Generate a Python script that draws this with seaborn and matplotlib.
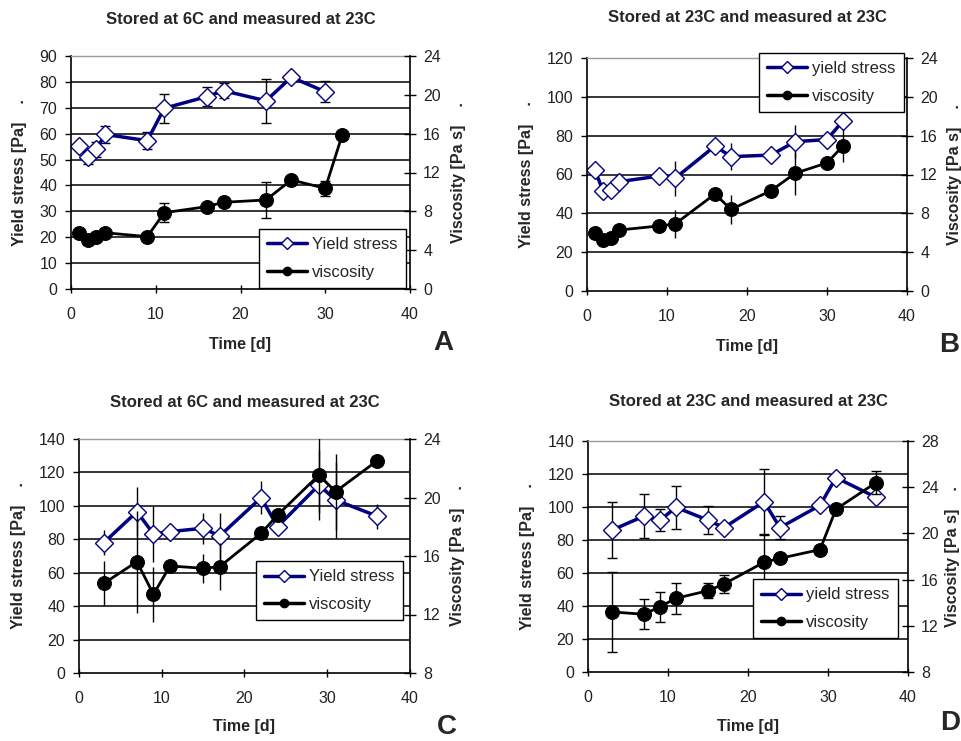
import matplotlib
matplotlib.use("Agg")
import matplotlib.pyplot as plt
import seaborn as sns
from matplotlib.lines import Line2D

# ---------------- data ----------------
# Panel A: stored at 6C, measured at 23C
a_time_yield = [1, 2, 3, 4, 9, 11, 16, 18, 23, 26, 30]
a_yield = [55.2, 50.9, 53.9, 59.7, 57.3, 69.8, 74.3, 76.6, 72.7, 81.8, 76.2]
a_yield_err = [1.0, 2.7, 3.0, 3.2, 3.4, 5.5, 3.7, 2.9, 8.5, 1.0, 4.0]
a_time_visc = [1, 2, 3, 4, 9, 11, 16, 18, 23, 26, 30, 32]
a_visc = [5.73, 5.05, 5.39, 5.8, 5.39, 7.86, 8.48, 8.93, 9.17, 11.23, 10.37, 15.86]
a_visc_err = [0.3, 0.3, 0.3, 0.3, 0.3, 1.0, 0.3, 0.3, 1.9, 0.3, 0.75, 0.3]

# Panel B: stored at 23C, measured at 23C
b_time = [1, 2, 3, 4, 9, 11, 16, 18, 23, 26, 30, 32]
b_yield = [62.3, 51.5, 52.0, 56.3, 59.2, 58.0, 74.7, 69.2, 70.0, 76.9, 78.0, 87.6]
b_yield_err = [1.0, 1.0, 1.0, 1.0, 1.0, 9.0, 1.0, 7.0, 1.0, 8.5, 1.0, 4.0]
b_visc = [6.0, 5.25, 5.42, 6.28, 6.7, 6.9, 9.99, 8.41, 10.33, 12.12, 13.2, 14.94]
b_visc_err = [0.3, 0.3, 0.3, 0.3, 0.3, 1.45, 0.3, 1.5, 0.3, 2.2, 0.3, 1.7]

# Panel C: stored at 6C, measured at 23C
c_time = [3, 7, 9, 11, 15, 17, 22, 24, 29, 31, 36]
c_yield = [78.0, 96.5, 83.2, 84.6, 86.6, 82.0, 104.9, 87.6, 112.5, 103.5, 93.9]
c_yield_err = [7.6, 14.5, 17.0, 1.0, 9.4, 14.0, 10.0, 1.0, 21.0, 23.0, 7.5]
c_visc = [14.13, 15.61, 13.38, 15.32, 15.16, 15.27, 17.55, 18.8, 21.54, 20.4, 22.5]
c_visc_err = [1.55, 3.5, 1.87, 0.3, 1.0, 1.6, 0.3, 0.3, 2.6, 2.6, 0.3]

# Panel D: stored at 23C, measured at 23C
d_time = [3, 7, 9, 11, 15, 17, 22, 24, 29, 31, 36]
d_yield = [86.0, 94.5, 92.0, 99.8, 92.0, 87.5, 103.2, 87.5, 101.0, 117.8, 105.9]
d_yield_err = [17.0, 13.5, 6.5, 13.0, 8.5, 1.0, 19.6, 7.0, 1.0, 1.0, 1.0]
d_visc = [13.2, 13.0, 13.66, 14.38, 15.04, 15.62, 17.5, 17.84, 18.6, 22.1, 24.4]
d_visc_err = [3.5, 1.3, 1.3, 1.35, 0.65, 0.75, 2.4, 0.3, 0.3, 0.3, 1.0]

titles = ["Stored at 6C and measured at 23C", "Stored at 23C and measured at 23C",
          "Stored at 6C and measured at 23C", "Stored at 23C and measured at 23C"]
legend_labels = [["Yield stress", "viscosity"], ["yield stress", "viscosity"],
                 ["Yield stress", "viscosity"], ["yield stress", "viscosity"]]
panel_letters = ["A", "B", "C", "D"]
x_ticks = [0, 10, 20, 30, 40]
a_left_ticks = [0, 10, 20, 30, 40, 50, 60, 70, 80, 90]
b_left_ticks = [0, 20, 40, 60, 80, 100, 120]
c_left_ticks = [0, 20, 40, 60, 80, 100, 120, 140]
d_left_ticks = [0, 20, 40, 60, 80, 100, 120, 140]
a_right_ticks = [0, 4, 8, 12, 16, 20, 24]
b_right_ticks = [0, 4, 8, 12, 16, 20, 24]
c_right_ticks = [8, 12, 16, 20, 24]
d_right_ticks = [8, 12, 16, 20, 24, 28]

# ---------------- style ----------------
sns.set_style("white")
plt.rcParams["font.family"] = ["Liberation Sans", "DejaVu Sans"]
NAVY = "#000080"
TICKCOL = "#222222"

fig = plt.figure(figsize=(9.62, 7.41), dpi=100)

# layout in pixel units (left, top, right, bottom)
rects_px = [(71, 56, 410, 289), (587, 58, 907, 291), (79, 439, 410, 673), (588, 441, 908, 672)]
legend_px = [(259, 229), (759, 53), (256, 561), (753, 579)]
ylab_x = [(-0.153, 1.142), (-0.1875, 1.15), (-0.184, 1.145), (-0.19, 1.14)]
title_y = [1.155, 1.172, 1.158, 1.173]
xlab_y = [-0.24, -0.24, -0.23, -0.238]
letter_px = [(443, 343), (949, 345), (447, 727), (950, 723)]
capsizes = [3.5, 0, 0, 3.5]

panels = [
    (a_time_yield, a_yield, a_yield_err, a_time_visc, a_visc, a_visc_err, a_left_ticks, a_right_ticks),
    (b_time, b_yield, b_yield_err, b_time, b_visc, b_visc_err, b_left_ticks, b_right_ticks),
    (c_time, c_yield, c_yield_err, c_time, c_visc, c_visc_err, c_left_ticks, c_right_ticks),
    (d_time, d_yield, d_yield_err, d_time, d_visc, d_visc_err, d_left_ticks, d_right_ticks),
]

W, H = 962.0, 741.0
for i, (ty, ys, yse, tv, vs, vse, lt, rt) in enumerate(panels):
    l, t, r, b = rects_px[i]
    ax = fig.add_axes([l / W, 1 - b / H, (r - l) / W, (b - t) / H])
    ax2 = ax.twinx()

    # gridlines (black) at inner left ticks
    for yv in lt[1:-1]:
        ax.axhline(yv, color="black", lw=1.1, zorder=0.5)

    # yield stress
    ax.errorbar(ty, ys, yerr=yse, fmt="none", ecolor="black", elinewidth=1.0,
                capsize=capsizes[i], capthick=1.0, zorder=1.5)
    sns.lineplot(x=ty, y=ys, ax=ax, color=NAVY, lw=2.5, marker="D", markersize=9.5,
                 markerfacecolor="white", markeredgecolor=NAVY, markeredgewidth=1.0,
                 errorbar=None, sort=False, zorder=2)

    # viscosity
    ax2.errorbar(tv, vs, yerr=vse, fmt="none", ecolor="black", elinewidth=1.0,
                 capsize=capsizes[i], capthick=1.0, zorder=1.5)
    sns.lineplot(x=tv, y=vs, ax=ax2, color="black", lw=2.0, marker="o", markersize=10,
                 markerfacecolor="black", markeredgecolor="black",
                 errorbar=None, sort=False, zorder=2)

    ax.set_xlim(x_ticks[0], x_ticks[-1])
    ax.set_ylim(lt[0], lt[-1])
    ax2.set_ylim(rt[0], rt[-1])
    ax.set_xticks(x_ticks)
    ax.set_yticks(lt)
    ax2.set_yticks(rt)
    ax.grid(False)
    ax2.grid(False)

    # spines
    for s in ["left", "bottom"]:
        ax.spines[s].set_color("black")
        ax.spines[s].set_linewidth(1.2)
    ax.spines["top"].set_color("#9a9a9a")
    ax.spines["top"].set_linewidth(1.0)
    ax.spines["right"].set_visible(False)
    for s in ["left", "bottom", "top"]:
        ax2.spines[s].set_visible(False)
    ax2.spines["right"].set_color("black")
    ax2.spines["right"].set_linewidth(1.2)

    ax.tick_params(axis="y", direction="out", length=4, width=1, pad=6, labelsize=11.5,
                   colors="black", labelcolor=TICKCOL, left=True)
    ax.tick_params(axis="x", direction="inout", length=6, width=1, pad=10, labelsize=11.5,
                   colors="black", labelcolor=TICKCOL, bottom=True)
    ax2.tick_params(axis="y", direction="inout", length=9, width=1, pad=5, labelsize=11.5,
                    colors="black", labelcolor=TICKCOL, right=True)

    # labels
    ax.set_ylabel("Yield stress [Pa]    .", fontsize=11.5, fontweight="bold", va="center")
    ax.yaxis.set_label_coords(ylab_x[i][0], 0.5)
    ax2.set_ylabel("Viscosity [Pa s]    .", fontsize=11.5, fontweight="bold", va="center",
                   rotation=90)
    ax2.yaxis.set_label_coords(ylab_x[i][1], 0.5)
    ax.set_xlabel("Time [d]", fontsize=11.5, fontweight="bold", va="center")
    ax.xaxis.set_label_coords(0.5, xlab_y[i])
    ax.set_title(titles[i], fontsize=12, fontweight="bold", y=title_y[i], va="center", pad=0)

    # legend
    h1 = Line2D([], [], color=NAVY, lw=2.5, marker="D", ms=6, mfc="white", mec=NAVY, mew=1.0)
    h2 = Line2D([], [], color="black", lw=2.5, marker="o", ms=6, mfc="black", mec="black")
    lx, ly = legend_px[i]
    leg = ax2.legend([h1, h2], legend_labels[i], loc="upper left",
                     bbox_to_anchor=(lx / W, 1 - ly / H), bbox_transform=fig.transFigure,
                     frameon=True, fancybox=False, edgecolor="black", framealpha=1,
                     fontsize=12, handlelength=2.4, handletextpad=0.3, borderpad=0.5,
                     labelspacing=0.75, borderaxespad=0)
    leg.get_frame().set_linewidth(1.0)

    px, py = letter_px[i]
    fig.text(px / W, 1 - py / H, panel_letters[i], fontsize=20, fontweight="bold",
             ha="center", va="center")

fig.savefig("out.png", dpi=100)
